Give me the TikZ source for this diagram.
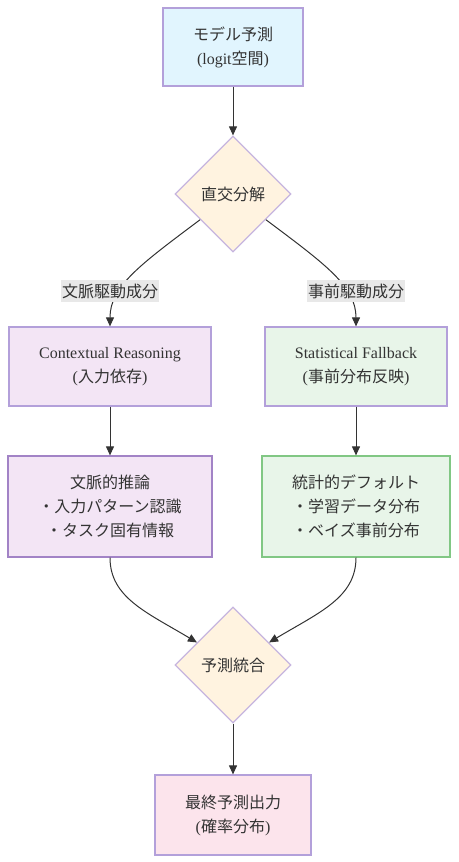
\documentclass[tikz,border=0pt]{standalone}
\usepackage{fontspec}
\setmainfont{Liberation Serif}
\newfontfamily\jp{Noto Sans CJK JP}
\usetikzlibrary{shapes.geometric,arrows.meta}

\definecolor{txt}{HTML}{333333}
\definecolor{bluefill}{HTML}{E1F5FE}
\definecolor{lilac}{HTML}{B3A0DA}
\definecolor{darklilac}{HTML}{A283C6}
\definecolor{orangefill}{HTML}{FFF3E0}
\definecolor{dmborder}{HTML}{C6B5DF}
\definecolor{purplefill}{HTML}{F3E5F5}
\definecolor{greenfill}{HTML}{E8F5E9}
\definecolor{greenborder}{HTML}{81C784}
\definecolor{pinkfill}{HTML}{FCE4EC}
\definecolor{lblgray}{HTML}{E8E8E8}

\tikzset{
	box/.style = {draw=lilac, line width=1.2pt, align=center, inner sep=0pt, text=txt,
		font=\fontsize{16}{24}\selectfont},
	decision/.style = {diamond, draw=dmborder, fill=orangefill, line width=1.2pt,
		minimum width=116pt, minimum height=116pt, inner sep=0pt, text=txt,
		font=\fontsize{16}{24}\selectfont},
	flow/.style = {draw=txt, line width=1pt, -{Triangle[length=9pt,width=8pt]}},
	edgelbl/.style = {fill=lblgray, inner sep=0pt, minimum width=98pt, minimum height=22pt,
		text=txt, font=\fontsize{16}{24}\selectfont\jp}
}

\begin{document}
\begin{tikzpicture}[x=1pt,y=-1pt]
	\useasboundingbox (0,0) rectangle (458,862);
	% boxes
	\node [box, fill=bluefill, minimum width=140pt, minimum height=78pt] (model) at (233,47)
		{{\jp モデル予測}\\(logit{\jp 空間})};
	\node [decision] (split) at (233,194) {\jp 直交分解};
	\node [box, fill=purplefill, minimum width=202pt, minimum height=79pt] (ctx) at (110,366.5)
		{Contextual Reasoning\\({\jp 入力依存})};
	\node [box, fill=greenfill, minimum width=182pt, minimum height=79pt] (stat) at (356,366.5)
		{Statistical Fallback\\({\jp 事前分布反映})};
	\node [box, draw=darklilac, fill=purplefill, minimum width=204pt, minimum height=101pt] (reason) at (110,506.5)
		{\jp 文脈的推論\\\jp ・入力パターン認識\\\jp ・タスク固有情報};
	\node [box, draw=greenborder, fill=greenfill, minimum width=188pt, minimum height=101pt] (default) at (356,506.5)
		{\jp 統計的デフォルト\\\jp ・学習データ分布\\\jp ・ベイズ事前分布};
	\node [decision] (merge) at (233,665) {\jp 予測統合};
	\node [box, fill=pinkfill, minimum width=156pt, minimum height=80pt] (out) at (233,815)
		{{\jp 最終予測出力}\\({\jp 確率分布})};
	% connectors
	\draw [flow] (model) -- (split);
	\draw [flow] (split.218) .. controls +(-60,45) and +(0,-40) .. (ctx.north);
	\draw [flow] (split.-38) .. controls +(60,45) and +(0,-40) .. (stat.north);
	\node [edgelbl] (ctxlbl) at (110,291) {文脈駆動成分};
	\node [edgelbl] (statlbl) at (356,291) {事前駆動成分};
	\draw [flow] (ctx) -- (reason);
	\draw [flow] (stat) -- (default);
	\draw [flow] (reason.south) .. controls +(0,40) and +(-50,-30) .. (merge.148);
	\draw [flow] (default.south) .. controls +(0,40) and +(50,-30) .. (merge.32);
	\draw [flow] (merge) -- (out);
\end{tikzpicture}
\end{document}
